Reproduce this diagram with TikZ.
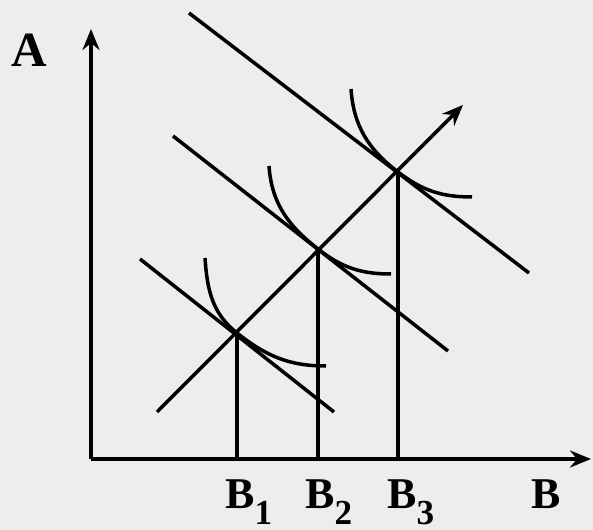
\documentclass[tikz,border=0pt]{standalone}
\usepackage{fontspec}
\setmainfont{Liberation Serif}
\usetikzlibrary{arrows.meta}
\definecolor{paper}{RGB}{237,237,237}
\newcommand{\bsub}[1]{B\raisebox{-0.32cm}{\fontsize{20}{20}\selectfont #1}}

\begin{document}
\begin{tikzpicture}[
    >={Stealth[length=4.2mm, width=3.4mm, inset=1.4mm]},
    thin line/.style={line width=2pt},
    isoquant/.style={line width=2pt},
    lbl/.style={font=\bfseries\fontsize{25}{25}\selectfont, inner sep=0pt},
]
\useasboundingbox (0,0) rectangle (11.86,10.6);
\fill[paper] (0,0) rectangle (11.86,10.6);
% key points
\coordinate (O)  at (1.82,1.42);
\coordinate (P1) at (4.74,3.94);
\coordinate (P2) at (6.36,5.62);
\coordinate (P3) at (7.96,7.16);
\coordinate (F1) at (P1 |- O);
\coordinate (F2) at (P2 |- O);
\coordinate (F3) at (P3 |- O);
% axes
\coordinate (Atip) at (1.82,10.02);
\coordinate (Btip) at (11.82,1.42);
\draw[->, thin line] (O) -- (Atip);
\draw[->, thin line] (O) -- (Btip);
% expansion path
\coordinate (E0) at (3.14,2.36);
\coordinate (E1) at (9.26,8.50);
\draw[->, thin line] (E0) -- (E1);
% isocost lines
\coordinate (L1a) at (2.80,5.42);  \coordinate (L1b) at (6.68,2.36);
\coordinate (L2a) at (3.46,7.88);  \coordinate (L2b) at (8.96,3.58);
\coordinate (L3a) at (3.78,10.34); \coordinate (L3b) at (10.58,5.14);
\draw[thin line] (L1a) -- (L1b);
\draw[thin line] (L2a) -- (L2b);
\draw[thin line] (L3a) -- (L3b);
% isoquants, tangent at P1..P3
\coordinate (Q1a) at (4.10,5.44); \coordinate (Q1b) at (6.52,3.28);
\coordinate (Q2a) at (5.38,7.28); \coordinate (Q2b) at (7.82,5.12);
\coordinate (Q3a) at (7.02,8.82); \coordinate (Q3b) at (9.44,6.66);
\draw[isoquant] (Q1a) to[out=-86, in=141.7] (P1) to[out=-38.3, in=180] (Q1b);
\draw[isoquant] (Q2a) to[out=-86, in=142.0] (P2) to[out=-38.0, in=180] (Q2b);
\draw[isoquant] (Q3a) to[out=-86, in=142.6] (P3) to[out=-37.4, in=180] (Q3b);
% drop lines
\draw[thin line] (P1) -- (F1);
\draw[thin line] (P2) -- (F2);
\draw[thin line] (P3) -- (F3);
% labels
\node[lbl, font=\bfseries\fontsize{28}{28}\selectfont, anchor=base] (labA) at (0.58,9.26) {A};
\node[lbl, anchor=base west] (labB1) at (4.50,0.42) {\bsub{1}};
\node[lbl, anchor=base west] (labB2) at (6.10,0.42) {\bsub{2}};
\node[lbl, anchor=base west] (labB3) at (7.74,0.42) {\bsub{3}};
\node[lbl, anchor=base] (labB) at (10.92,0.42) {B};
\end{tikzpicture}
\end{document}
